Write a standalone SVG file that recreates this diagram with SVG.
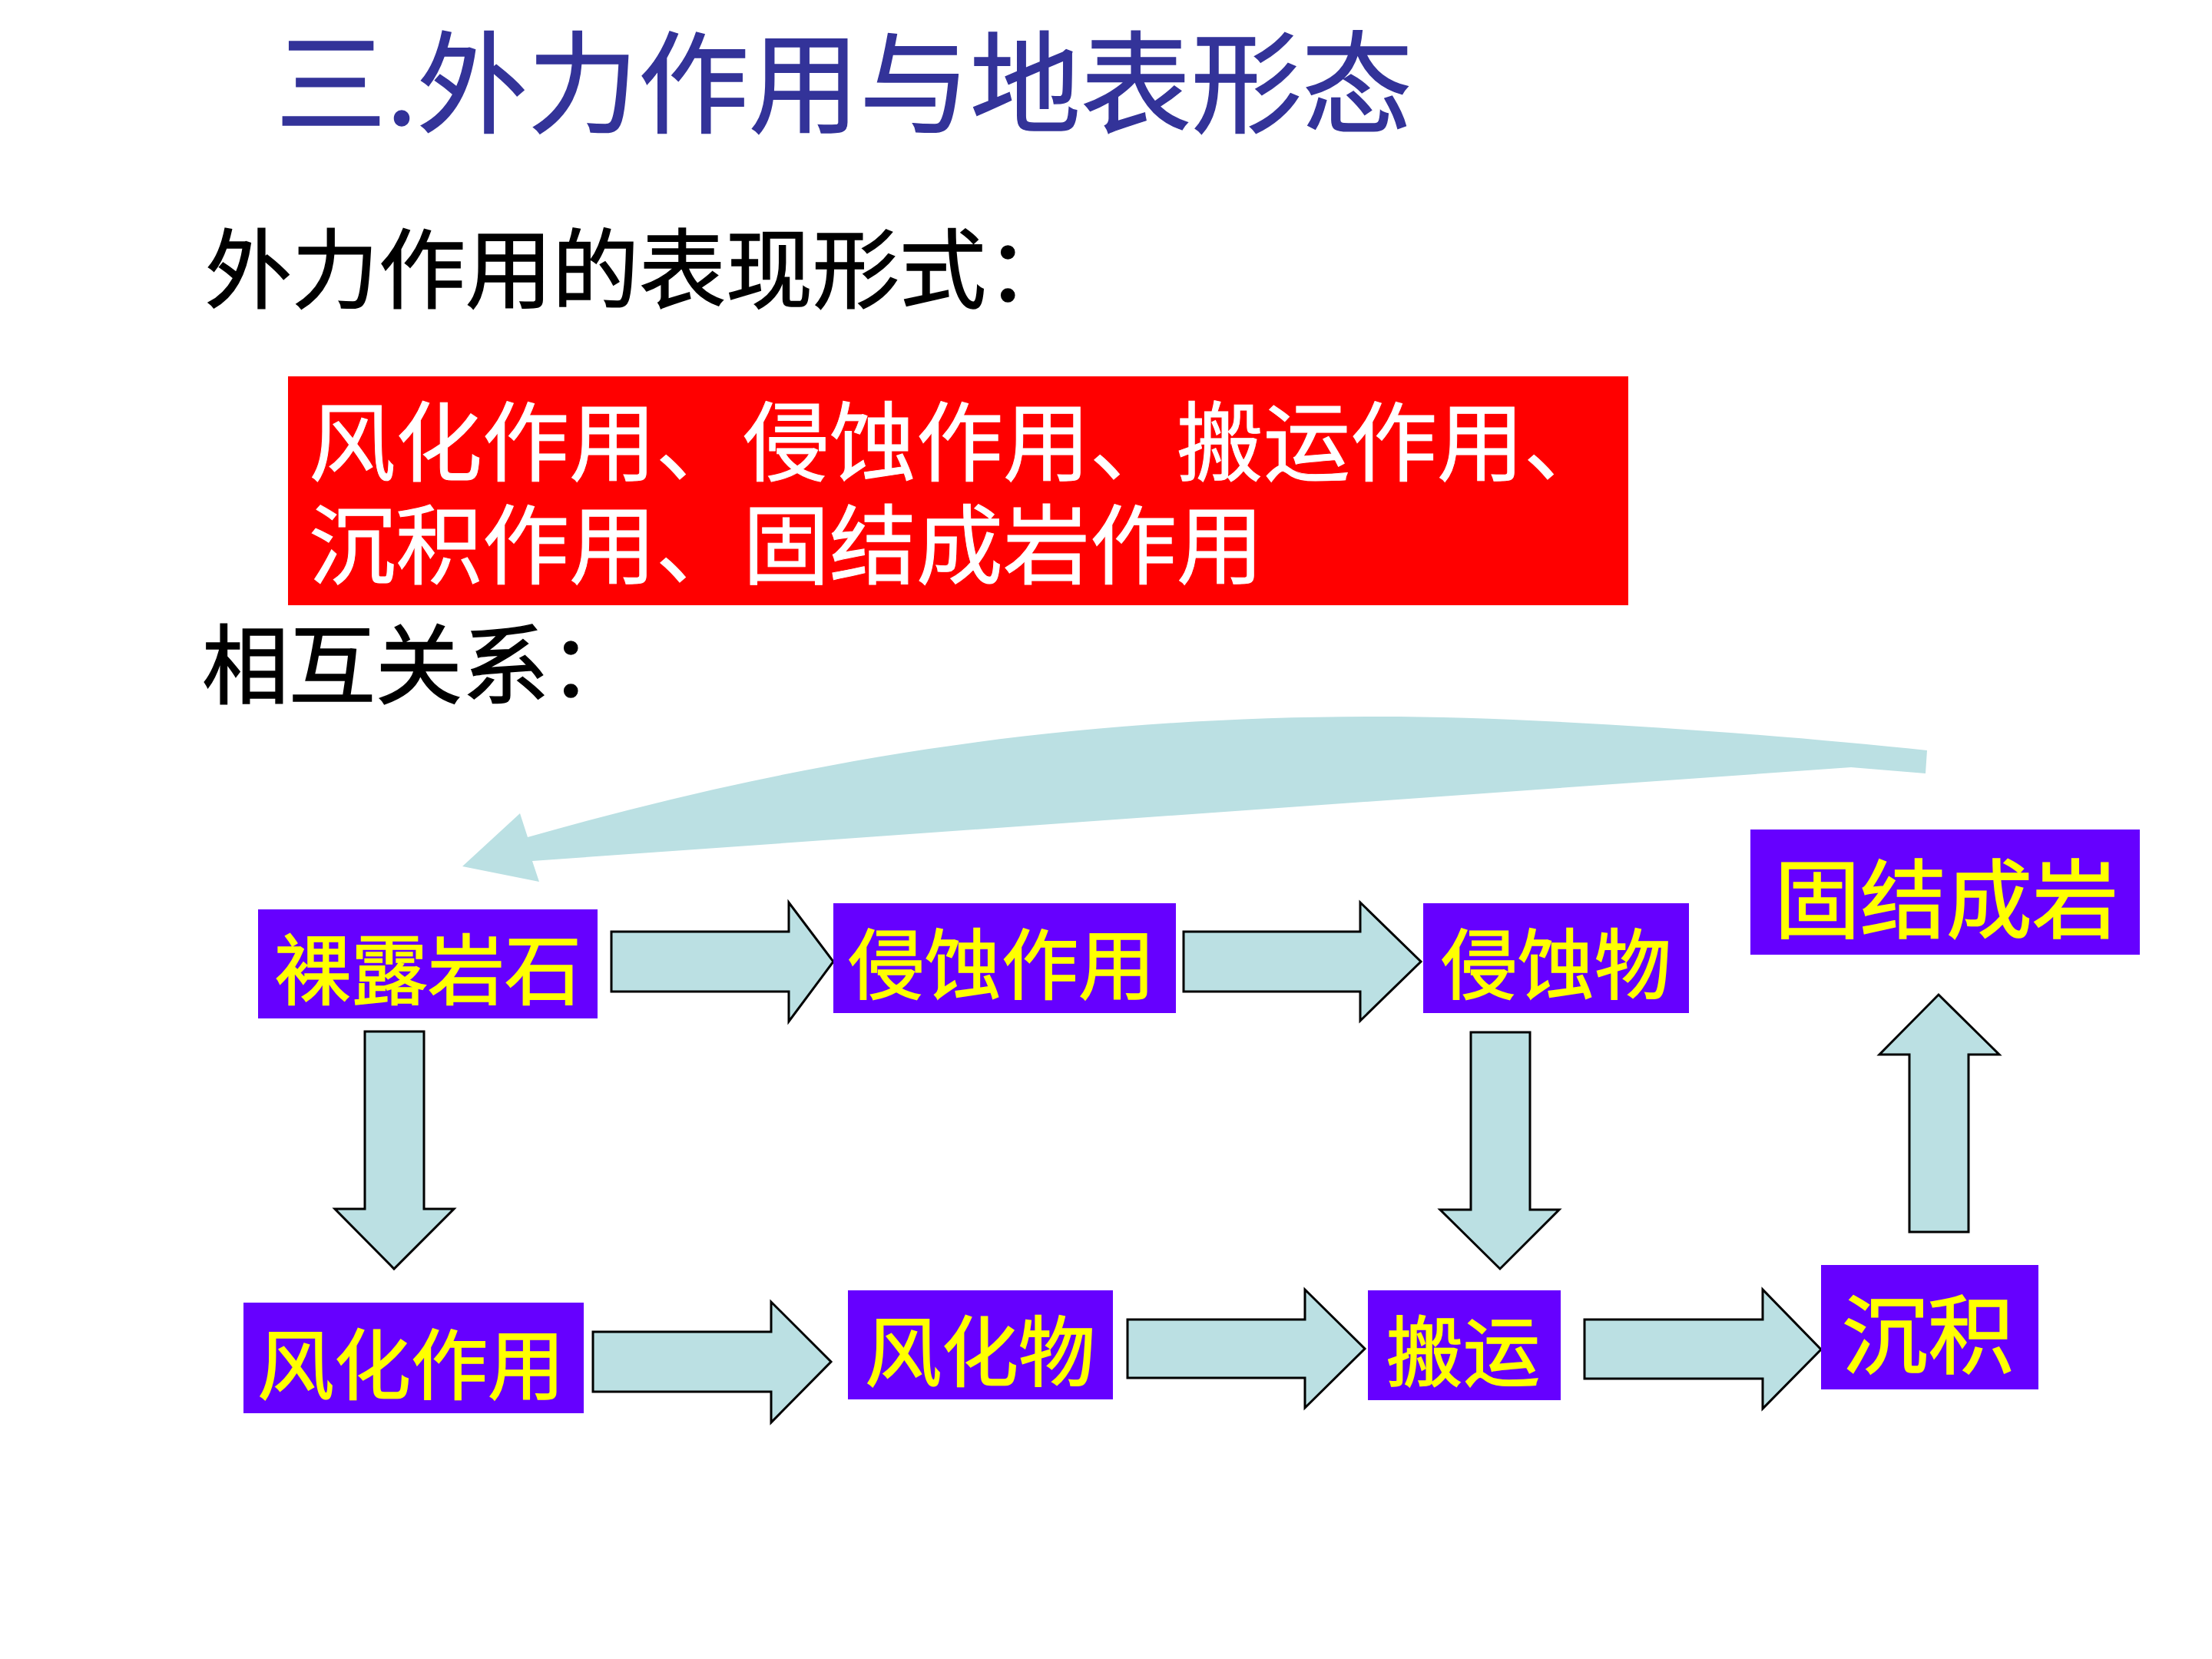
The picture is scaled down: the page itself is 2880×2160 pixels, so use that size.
<svg xmlns="http://www.w3.org/2000/svg" width="2880" height="2160" viewBox="0 0 2880 2160">
<style>
  .cjk { font-family: "Noto Sans CJK SC", "Noto Sans", sans-serif; }
  .title { fill: #333399; font-size: 144px; stroke: #333399; stroke-width: 1.5; }
  .black { fill: #000000; font-size: 113px; stroke: #000000; stroke-width: 1.5; }
  .white { fill: #FFFFFF; font-size: 113px; stroke: #FFFFFF; stroke-width: 1; }
  .box { fill: #6600FF; }
  .lbl { fill: #FFFF00; stroke: #FFFF00; stroke-width: 1.5; font-size: 100px; text-anchor: middle; dominant-baseline: central; }
  .lbl-big { font-size: 112px; }
  .arrow { fill: #BBE0E3; stroke: #000000; stroke-width: 3; stroke-linejoin: miter; }
  .curve { fill: #BBE0E3; stroke: none; }
</style>
<rect x="0" y="0" width="2880" height="2160" fill="#FFFFFF"/>

<g id="title">
  <text class="cjk title" x="359" y="162">三.外力作用与地表形态</text>
</g>
<g id="heading1">
  <text class="cjk black" x="267" y="392">外力作用的表现形式：</text>
</g>
<g id="summary">
  <rect x="375" y="490" width="1745" height="298" fill="#FF0000"/>
  <text class="cjk white" x="402" y="617">风化作用、侵蚀作用、搬运作用、</text>
  <text class="cjk white" x="402" y="751">沉积作用、固结成岩作用</text>
</g>
<g id="heading2">
  <text class="cjk black" x="263" y="907">相互关系：</text>
</g>

<g id="connectors">
  <path class="curve" d="M602,1128 L677,1059 L687,1090 C1057,985 1394,933 1794,933 C2000,933 2300,955 2509,977 L2507,1007 L2410,999 L693,1121 L702,1148 Z"/>
  <polygon class="arrow" points="796,1213 1027,1213 1027,1175 1085,1252 1027,1330 1027,1291 796,1291"/>
  <polygon class="arrow" points="1541,1213 1771,1213 1771,1175 1850,1252 1771,1329 1771,1291 1541,1291"/>
  <polygon class="arrow" points="475,1343 552,1343 552,1574 591,1574 513,1652 436,1574 475,1574"/>
  <polygon class="arrow" points="1915,1344 1992,1344 1992,1575 2030,1575 1953,1652 1875,1575 1915,1575"/>
  <polygon class="arrow" points="2486,1604 2563,1604 2563,1373 2603,1373 2524,1295 2447,1373 2486,1373"/>
  <polygon class="arrow" points="772,1734 1004,1734 1004,1695 1082,1773 1004,1852 1004,1812 772,1812"/>
  <polygon class="arrow" points="1468,1718 1699,1718 1699,1679 1777,1756 1699,1833 1699,1794 1468,1794"/>
  <polygon class="arrow" points="2063,1718 2295,1718 2295,1679 2371,1757 2295,1834 2295,1795 2063,1795"/>
</g>

<g id="node-luolu">
  <rect class="box" x="336" y="1184" width="442" height="142"/>
  <text class="cjk lbl" x="557" y="1256">裸露岩石</text>
</g>
<g id="node-qinshi-zuoyong">
  <rect class="box" x="1085" y="1176" width="446" height="143"/>
  <text class="cjk lbl" x="1304" y="1249">侵蚀作用</text>
</g>
<g id="node-qinshiwu">
  <rect class="box" x="1853" y="1176" width="346" height="143"/>
  <text class="cjk lbl" x="2026" y="1249">侵蚀物</text>
</g>
<g id="node-gujie">
  <rect class="box" x="2279" y="1080" width="507" height="163"/>
  <text class="cjk lbl lbl-big" x="2534" y="1164">固结成岩</text>
</g>
<g id="node-fenghua-zuoyong">
  <rect class="box" x="317" y="1696" width="443" height="144"/>
  <text class="cjk lbl" x="535" y="1770">风化作用</text>
</g>
<g id="node-fenghuawu">
  <rect class="box" x="1104" y="1680" width="345" height="142"/>
  <text class="cjk lbl" x="1276" y="1753">风化物</text>
</g>
<g id="node-banyun">
  <rect class="box" x="1781" y="1680" width="251" height="143"/>
  <text class="cjk lbl" x="1905" y="1753">搬运</text>
</g>
<g id="node-chenji">
  <rect class="box" x="2371" y="1647" width="283" height="162"/>
  <text class="cjk lbl lbl-big" x="2510" y="1731">沉积</text>
</g>
</svg>
